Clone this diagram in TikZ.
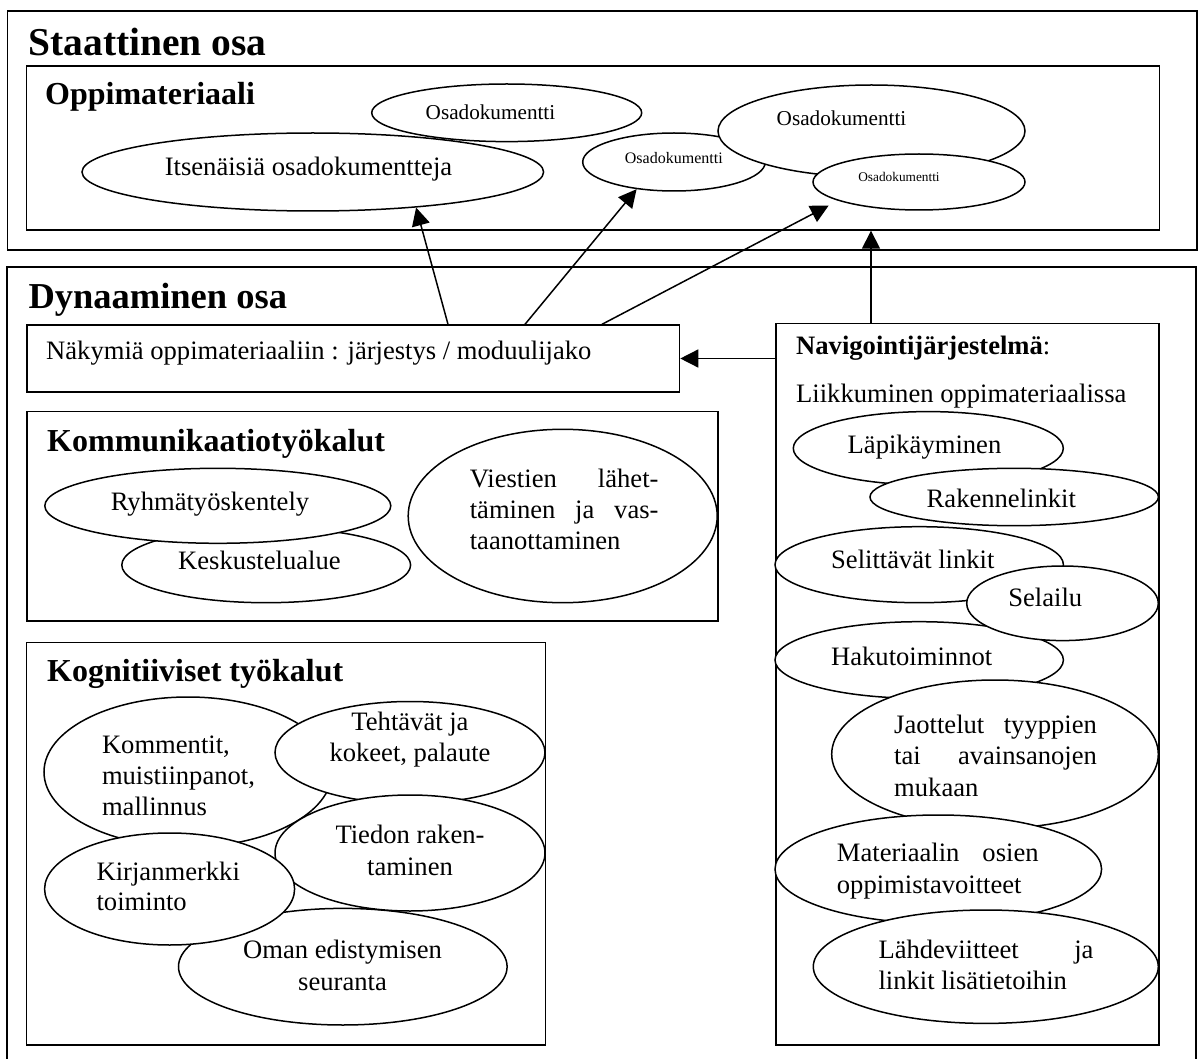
\documentclass[tikz,border=0pt]{standalone}
\usepackage{fontspec}
\setmainfont{Liberation Serif}
\usetikzlibrary{arrows.meta,shapes.geometric}

% font sizes
\newcommand\txtbody{\fontsize{26.6}{31}\selectfont}
\newcommand\txtsub{\fontsize{32}{38}\selectfont\bfseries}

% rows of multi-line labels: justified, centred, left
\newcommand\jrow[2]{\hbox to #1{#2}}
\newcommand\crow[1]{\hbox to 0pt{\hss #1\hss}}
\newcommand\lrow[1]{\hbox{#1}}
\newcommand\rows[2]{\vtop{\baselineskip=#1\relax #2}}

\tikzset{
  frame/.style={draw, line width=1.7pt, inner sep=0pt, anchor=north west},
  oval/.style={ellipse, draw, fill=white, line width=1.5pt, inner sep=0pt},
  lbl/.style={inner sep=0pt, font=\txtbody},
  head/.style={inner sep=0pt, anchor=base west},
  arr/.style={line width=1.5pt, -{Triangle[length=18pt,width=18pt]}},
}

\begin{document}
\begin{tikzpicture}[x=1pt,y=-1pt]
\useasboundingbox[fill=white] (0,0) rectangle (1203,1059);

% ---------- static part ----------
\node[frame, minimum width=1189.5pt, minimum height=239.5pt] (stat) at (6.5,10) {};
\node[head, font=\fontsize{39.5}{46}\selectfont\bfseries] (statT) at (28.3,55.7) {Staattinen osa};
\node[frame, minimum width=1133pt, minimum height=164pt] (opp) at (25.5,65) {};
\node[head, font=\txtsub] (oppT) at (45,105) {Oppimateriaali};

\node[oval, minimum width=270pt, minimum height=57.6pt] (e1) at (506.7,112.8) {};
\node[lbl, anchor=base, font=\fontsize{21.2}{25}\selectfont] (e1t) at (490.5,119.3) {Osadokumentti};
\node[oval, minimum width=461.6pt, minimum height=78pt] (itsen) at (312.8,172) {};
\node[lbl, anchor=base] (itsent) at (308.5,175.7) {Itsenäisiä osadokumentteja};
\node[oval, minimum width=182.6pt, minimum height=58pt] (e2) at (674,162) {};
\node[lbl, anchor=base, font=\fontsize{16}{19}\selectfont] (e2t) at (673.8,163.3) {Osadokumentti};
\node[oval, minimum width=307pt, minimum height=92pt] (ebig) at (871.5,131) {};
\node[lbl, anchor=base, font=\fontsize{21.2}{25}\selectfont] (ebigt) at (841.5,126) {Osadokumentti};
\node[oval, minimum width=212pt, minimum height=56pt] (e3) at (919,182) {};
\node[lbl, anchor=base, font=\fontsize{13.3}{16}\selectfont] (e3t) at (899,182) {Osadokumentti};

% ---------- dynamic part ----------
\draw[line width=1.7pt] (7,1059) -- (7,266.7) -- (1196,266.7) -- (1196,1059);
\node[head, font=\fontsize{36.5}{43}\selectfont\bfseries] (dynT) at (28.3,308.3) {Dynaaminen osa};

\node[frame, minimum width=652.6pt, minimum height=66.7pt] (nak) at (26,324.3) {};
\node[lbl, anchor=base west] (nakT) at (46,359.3) {Näkymiä oppimateriaaliin : järjestys / moduulijako};

% communication tools
\node[frame, minimum width=691pt, minimum height=209.3pt] (komm) at (26,410.7) {};
\node[head, font=\txtsub] (kommT) at (47,451.7) {Kommunikaatiotyökalut};
\node[oval, minimum width=288.8pt, minimum height=75.4pt] (kesk) at (266.2,565) {};
\node[lbl, anchor=base] (keskT) at (259.4,569.3) {Keskustelualue};
\node[oval, minimum width=346pt, minimum height=75pt] (ryhma) at (217.8,505.8) {};
\node[lbl, anchor=base] (ryhmaT) at (210,510.7) {Ryhmätyöskentely};
\node[oval, minimum width=309pt, minimum height=173.4pt] (viest) at (562.7,516) {};
\node[lbl, anchor=base west] (viestT) at (469.6,487.7)
  {\rows{31pt}{\jrow{188.7pt}{Viestien\hfill lähet-}\jrow{188.7pt}{täminen\hfill ja\hfill vas-}\lrow{taanottaminen}}};

% cognitive tools
\node[frame, minimum width=518.9pt, minimum height=402.6pt] (kogn) at (25.7,641.7) {};
\node[head, font=\txtsub] (kognT) at (47,681.7) {Kognitiiviset työkalut};
\node[oval, minimum width=328.6pt, minimum height=116.6pt] (oman) at (342.8,966.7) {};
\node[lbl, anchor=base] (omanT) at (342.5,958.3)
  {\rows{31.7pt}{\crow{Oman edistymisen}\crow{seuranta}}};
\node[oval, minimum width=288pt, minimum height=150pt] (komm2) at (188,772) {};
\node[lbl, anchor=base west] (komm2T) at (101.8,753.3)
  {\rows{31pt}{\lrow{Kommentit,}\lrow{muistiinpanot,}\lrow{mallinnus}}};
\node[oval, minimum width=270pt, minimum height=102pt] (teht) at (410,752.5) {};
\node[lbl, anchor=base] (tehtT) at (410,730)
  {\rows{31.7pt}{\crow{Tehtävät ja}\crow{kokeet, palaute}}};
\node[oval, minimum width=270pt, minimum height=116pt] (tied) at (410,853) {};
\node[lbl, anchor=base] (tiedT) at (410,843.3)
  {\rows{31.7pt}{\crow{Tiedon raken-}\crow{taminen}}};
\node[oval, minimum width=250pt, minimum height=112pt] (kirj) at (169.6,889) {};
\node[lbl, anchor=base west] (kirjT) at (96.4,880)
  {\rows{30pt}{\lrow{Kirjanmerkki}\lrow{toiminto}}};

% navigation system
\node[frame, minimum width=383.3pt, minimum height=721.6pt] (nav) at (775,322.7) {};
\node[lbl, anchor=base west] (navT) at (796,355) {\textbf{Navigointijärjestelmä}:};
\node[lbl, anchor=base west] (navS) at (796,402.7) {Liikkuminen oppimateriaalissa};
\node[oval, minimum width=270pt, minimum height=73.4pt] (lapi) at (928.3,448.3) {};
\node[lbl, anchor=base] (lapiT) at (924.5,453.5) {Läpikäyminen};
\node[oval, minimum width=288.4pt, minimum height=57.4pt] (rak) at (1014.2,497) {};
\node[lbl, anchor=base] (rakT) at (1001.3,507.3) {Rakennelinkit};
\node[oval, minimum width=288.4pt, minimum height=76pt] (sel) at (919.2,564.7) {};
\node[lbl, anchor=base] (selT) at (912.8,568.3) {Selittävät linkit};
\node[oval, minimum width=288.4pt, minimum height=76.6pt] (haku) at (919.2,660) {};
\node[lbl, anchor=base] (hakuT) at (911.7,665) {Hakutoiminnot};
\node[oval, minimum width=191.6pt, minimum height=74.6pt] (selai) at (1062.5,603.3) {};
\node[lbl, anchor=base] (selaiT) at (1045.3,606) {Selailu};
\node[oval, minimum width=326.6pt, minimum height=148.4pt] (jaot) at (995,754.2) {};
\node[lbl, anchor=base west] (jaotT) at (894,733.3)
  {\rows{31.5pt}{\jrow{202.7pt}{Jaottelut\hfill tyyppien}\jrow{202.7pt}{tai\hfill avainsanojen}\lrow{mukaan}}};
\node[oval, minimum width=326.6pt, minimum height=108.4pt] (mat) at (938.3,869.2) {};
\node[lbl, anchor=base west] (matT) at (836.7,861.7)
  {\rows{31.6pt}{\jrow{201.7pt}{Materiaalin\hfill osien}\lrow{oppimistavoitteet}}};
\node[oval, minimum width=345pt, minimum height=113.4pt] (lah) at (985.8,966.7) {};
\node[lbl, anchor=base west] (lahT) at (878.3,958.3)
  {\rows{31pt}{\jrow{215pt}{Lähdeviitteet\hfill ja}\lrow{linkit lisätietoihin}}};

% ---------- connectors ----------
\draw[arr] ([xshift=422pt]nak.north west) -- (itsen.-19.4);
\draw[arr] ([xshift=499pt]nak.north west) -- (e2.-144.7);
\draw[arr, shorten >=10.5pt] ([xshift=576pt]nak.north west) -- (e3.193);
\coordinate (navtop) at ([xshift=96pt]nav.north west);
\draw[arr] (navtop) -- (navtop |- opp.south);
\draw[arr] (nav.west |- nak.east) -- (nak.east);
\end{tikzpicture}
\end{document}
